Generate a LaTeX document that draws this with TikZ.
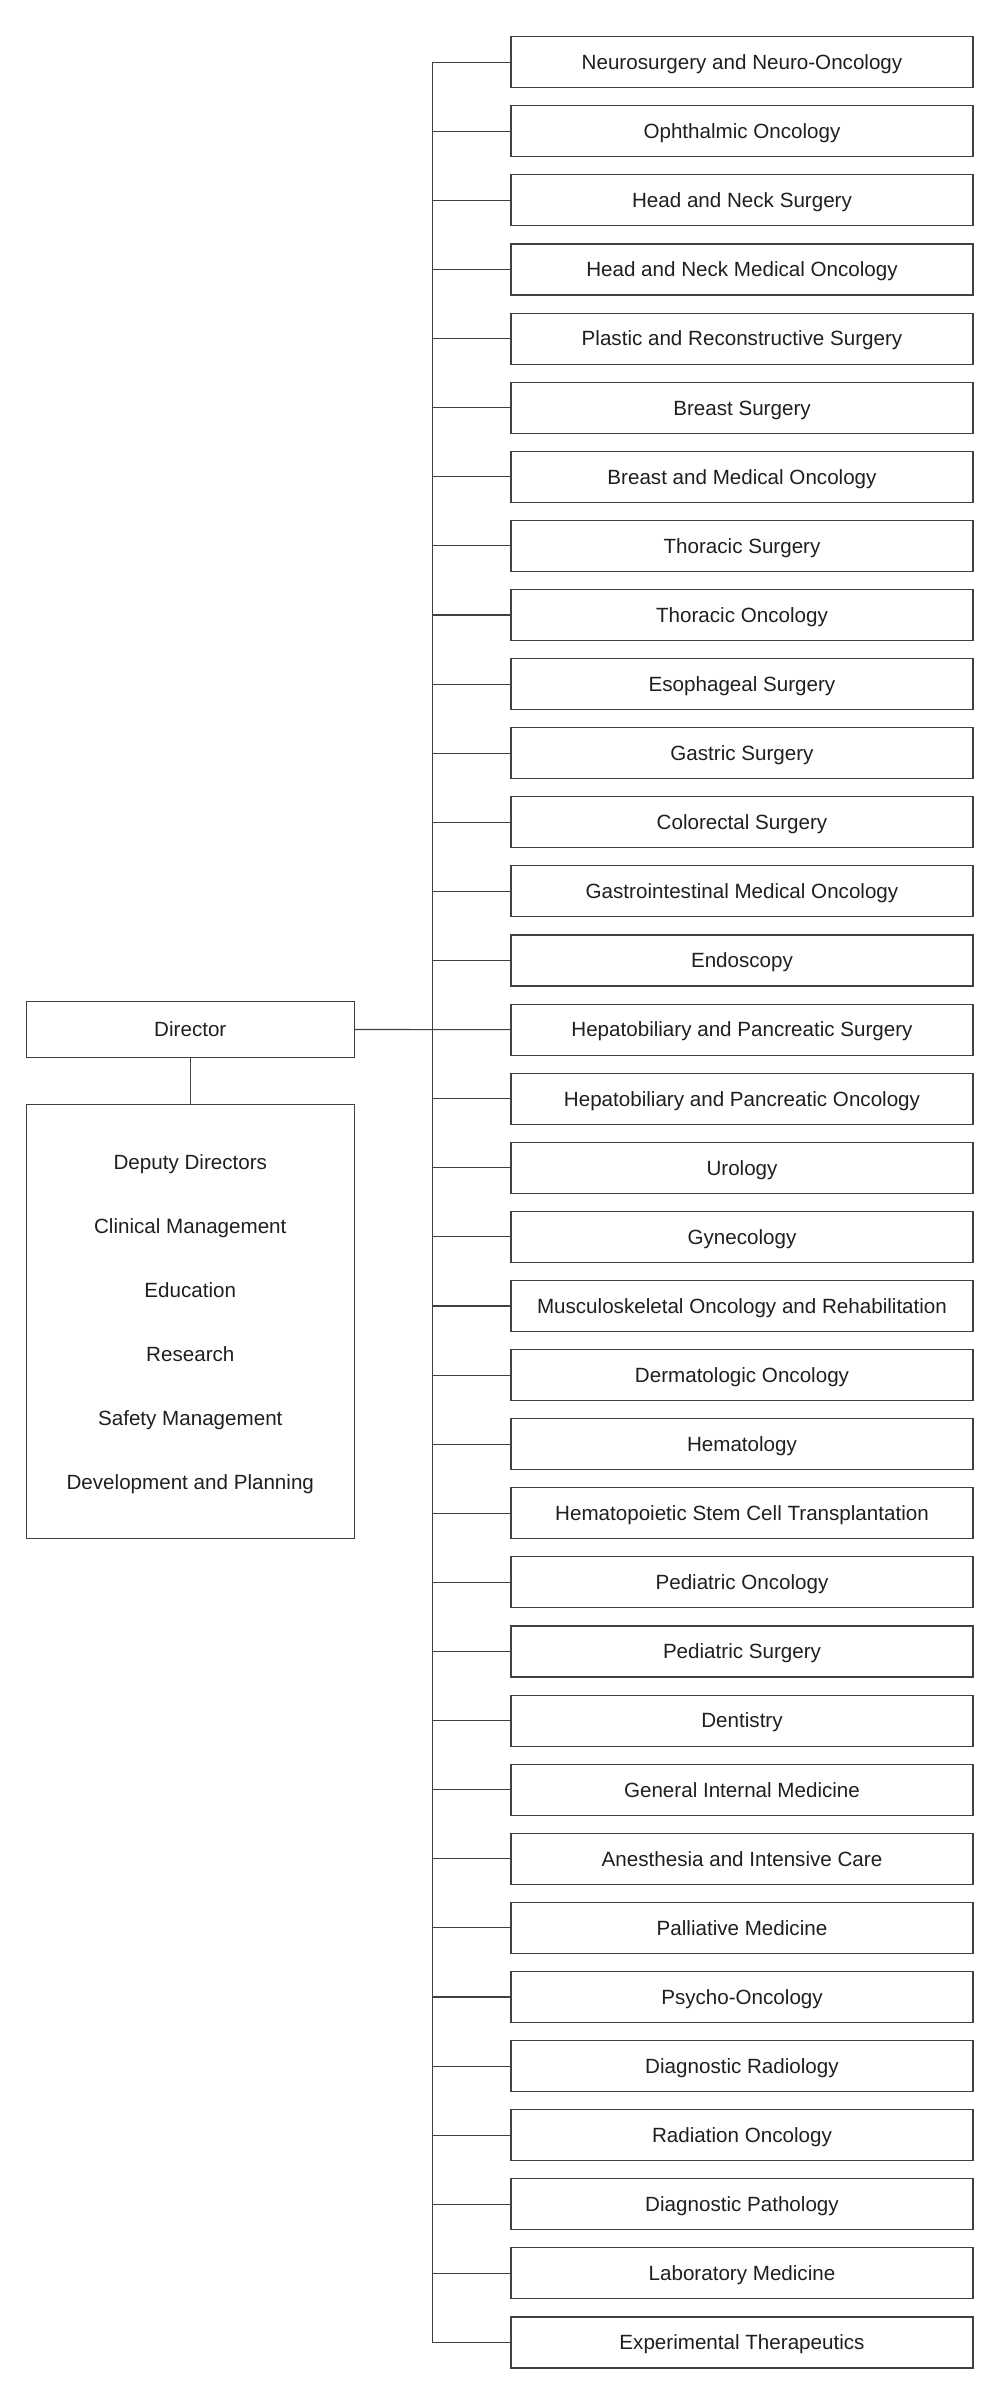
\documentclass[tikz,border=0pt]{standalone}
\usepackage{fontspec}
\setmainfont{Liberation Sans}
\begin{document}
\begin{tikzpicture}[x=1pt,y=-1pt,
  line/.style={draw=black!75,line width=1.1pt},
  dept/.style={line,rectangle,minimum width=462pt,minimum height=51pt,inner sep=0pt,
    text=black!88,font=\fontsize{20.6}{24}\selectfont,text height=14.75pt,text depth=0pt},
  dirbox/.style={line,rectangle,minimum width=328pt,minimum height=55.5pt,inner sep=0pt,
    text=black!88,font=\fontsize{20.6}{24}\selectfont,text height=14.75pt,text depth=0pt},
  staffbox/.style={line,rectangle,minimum width=328pt,minimum height=434pt,inner sep=0pt},
  stafftext/.style={anchor=base,inner sep=0pt,text=black!88,font=\fontsize{20.6}{24}\selectfont}]
\useasboundingbox (0,0) rectangle (1000,2388);
\foreach \t [count=\i] in {Neurosurgery and Neuro-Oncology,Ophthalmic Oncology,Head and Neck Surgery,Head and Neck Medical Oncology,Plastic and Reconstructive Surgery,Breast Surgery,Breast and Medical Oncology,Thoracic Surgery,Thoracic Oncology,Esophageal Surgery,Gastric Surgery,Colorectal Surgery,Gastrointestinal Medical Oncology,Endoscopy,Hepatobiliary and Pancreatic Surgery,Hepatobiliary and Pancreatic Oncology,Urology,Gynecology,Musculoskeletal Oncology and Rehabilitation,Dermatologic Oncology,Hematology,Hematopoietic Stem Cell Transplantation,Pediatric Oncology,Pediatric Surgery,Dentistry,General Internal Medicine,Anesthesia and Intensive Care,Palliative Medicine,Psycho-Oncology,Diagnostic Radiology,Radiation Oncology,Diagnostic Pathology,Laboratory Medicine,Experimental Therapeutics}{
  \node[dept] (d\i) at (742,{62.2+69.1*(\i-1)}) {\t};
  \coordinate (j\i) at (432.3,{62.2+69.1*(\i-1)});
  \draw[line] (j\i) -- (d\i.west);
}
\draw[line] (j1) -- (j34);
\node[dirbox] (dir) at (190.3,1029.5) {Director};
\draw[line] (dir.east) -- (d15.west);
\node[staffbox] (staff) at (190.3,1321.2) {};
\draw[line] (dir.south) -- (staff.north);
\foreach \t [count=\k] in {Deputy Directors,Clinical Management,Education,Research,Safety Management,Development and Planning}{
  \node[stafftext] (s\k) at (190.3,{1169+64*(\k-1)}) {\t};
}
\end{tikzpicture}
\end{document}
